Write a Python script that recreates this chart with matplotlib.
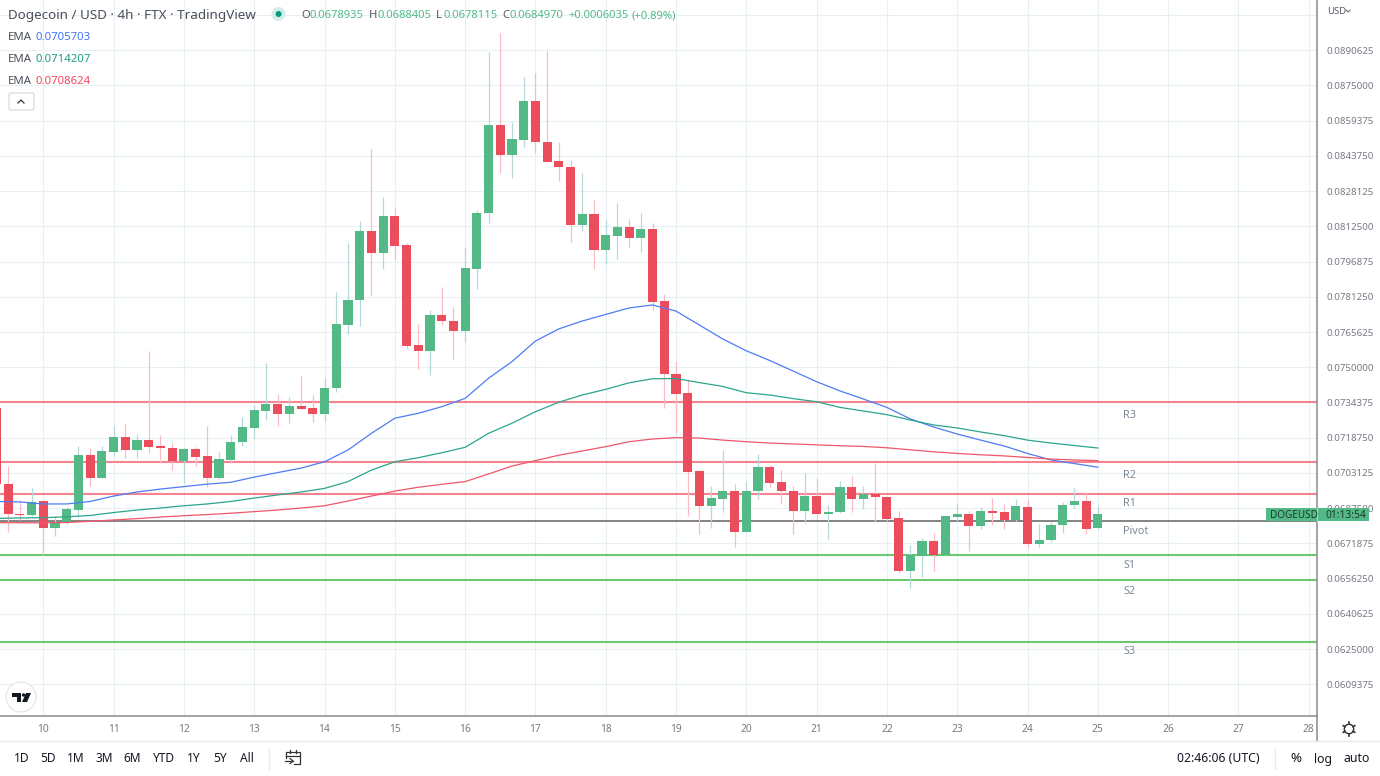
import numpy as np
import matplotlib
matplotlib.use("Agg")
import matplotlib.pyplot as plt
from matplotlib.patches import Circle, FancyBboxPatch, Polygon, Rectangle

# =============================================
# DATA (prices in units of 0.00001 USD, one candle every 4h)
# =============================================
PRICE_UNIT = 1e-5
FIRST_DAY = 10
FIRST_OFFSET = -4  # the first candle opens 4 bars before day 10

opens = [7319, 6982, 6849, 6845, 6907, 6789, 6815, 6867, 7111, 7010, 7126, 7191, 7132, 7177, 7151, 7142,
         7083, 7138, 7107, 7008, 7089, 7167, 7231, 7307, 7337, 7291, 7328, 7319, 7291, 7408, 7689, 7798,
         8103, 8005, 8169, 8042, 7599, 7572, 7732, 7706, 7661, 7937, 8182, 8574, 8441, 8507, 8680, 8500,
         8414, 8389, 8132, 8179, 8020, 8083, 8122, 8073, 8111, 7794, 7471, 7385, 7039, 6885, 6917, 6951,
         6771, 6950, 7058, 6991, 6951, 6861, 6929, 6848, 6858, 6969, 6917, 6938, 6926, 6832, 6597, 6665,
         6730, 6668, 6838, 6849, 6798, 6863, 6858, 6823, 6882, 6718, 6733, 6801, 6891, 6907, 6789]
highs = [7333, 7062, 6912, 6965, 6912, 6841, 6880, 7151, 7142, 7151, 7244, 7248, 7204, 7572, 7200, 7164,
         7142, 7146, 7240, 7124, 7200, 7279, 7333, 7519, 7381, 7368, 7461, 7377, 7452, 7834, 8051, 8148,
         8467, 8255, 8206, 8051, 7692, 7754, 7856, 7767, 8033, 8197, 8897, 8982, 8587, 8787, 8804, 8902,
         8499, 8419, 8361, 8241, 8153, 8228, 8157, 8184, 8139, 7825, 7528, 7448, 7044, 6974, 7133, 6982,
         6996, 7115, 7067, 7044, 6974, 7031, 7009, 6889, 6996, 7018, 6974, 7076, 6930, 6863, 6712, 6743,
         6765, 6845, 6898, 6863, 6880, 6920, 6894, 6916, 6916, 6805, 6814, 6903, 6965, 6943, 6884]
lows = [6956, 6770, 6823, 6841, 6668, 6752, 6805, 6836, 6974, 7008, 7107, 7098, 7098, 7120, 7076, 7044,
        6987, 7062, 6969, 7006, 7076, 7151, 7182, 7266, 7240, 7253, 7313, 7257, 7262, 7390, 7647, 7683,
        7820, 7936, 7975, 7585, 7492, 7466, 7687, 7537, 7612, 7847, 8139, 8361, 8339, 8476, 8450, 8409,
        8326, 8055, 8104, 7936, 7958, 7980, 8033, 8011, 7754, 7319, 7209, 6841, 6761, 6787, 6858, 6703,
        6769, 6916, 6969, 6894, 6761, 6810, 6827, 6739, 6856, 6858, 6872, 6814, 6818, 6588, 6521, 6570,
        6597, 6666, 6818, 6685, 6783, 6801, 6783, 6818, 6699, 6703, 6725, 6765, 6876, 6761, 6781]
closes = [6982, 6849, 6845, 6903, 6787, 6814, 6872, 7111, 7010, 7129, 7191, 7132, 7177, 7148, 7142, 7083,
          7138, 7102, 7008, 7093, 7169, 7234, 7310, 7337, 7291, 7328, 7315, 7291, 7408, 7692, 7799, 8103,
          8005, 8169, 8039, 7595, 7572, 7732, 7706, 7661, 7940, 8184, 8574, 8441, 8510, 8680, 8499, 8411,
          8386, 8132, 8179, 8020, 8086, 8122, 8073, 8111, 7791, 7469, 7383, 7037, 6885, 6920, 6951, 6771,
          6951, 7058, 6988, 6950, 6861, 6929, 6848, 6860, 6969, 6917, 6938, 6925, 6827, 6597, 6668, 6730,
          6668, 6841, 6849, 6798, 6863, 6855, 6823, 6884, 6718, 6736, 6802, 6891, 6907, 6784, 6850]

# EMAs read every 2 candles, starting on the first candle
ema_blue = [6905, 6903, 6894, 6894, 6905, 6929, 6947, 6960, 6971, 6982, 6990, 7013, 7033, 7053, 7081, 7133,
            7207, 7274, 7296, 7325, 7362, 7451, 7525, 7616, 7670, 7705, 7734, 7763, 7776, 7749, 7687, 7625,
            7573, 7530, 7483, 7436, 7395, 7359, 7322, 7271, 7235, 7204, 7177, 7151, 7118, 7089, 7073, 7057]
ema_green = [6830, 6832, 6833, 6837, 6843, 6856, 6867, 6876, 6886, 6894, 6905, 6920, 6934, 6947, 6963, 6993,
             7044, 7081, 7099, 7121, 7145, 7207, 7252, 7303, 7345, 7377, 7402, 7431, 7449, 7450, 7432, 7415,
             7387, 7377, 7361, 7347, 7322, 7306, 7290, 7266, 7244, 7231, 7213, 7197, 7177, 7164, 7153, 7142]
ema_red = [6811, 6811, 6810, 6812, 6817, 6823, 6829, 6836, 6842, 6847, 6853, 6860, 6867, 6876, 6886, 6907,
           6929, 6951, 6968, 6981, 6993, 7027, 7062, 7086, 7110, 7129, 7148, 7170, 7182, 7188, 7186, 7177,
           7170, 7164, 7160, 7156, 7152, 7149, 7143, 7134, 7125, 7118, 7112, 7107, 7100, 7093, 7089, 7086]

res_levels = [7346, 7078, 6938]
pivot_level = 6818
sup_levels = [6668, 6557, 6284]

day_ticks = list(range(10, 29))
bold_days = [15, 22]
price_ticks = [0.0609375 + 0.0015625 * k for k in range(20)]

# =============================================
# STYLE
# =============================================
plt.rcParams['font.family'] = ['Noto Sans', 'DejaVu Sans']
W, H = 1380, 776
AXIS_X, AXIS_Y = 1317, 716
GREEN = '#53b987'
RED = '#eb4d5c'
GREY = '#787b86'
GRID = '#e8f0f4'

fig = plt.figure(figsize=(W / 100, H / 100), dpi=100, facecolor='white')
ax = fig.add_axes([0, 1 - AXIS_Y / H, AXIS_X / W, AXIS_Y / H])

# =============================================
# CHART
# =============================================
o = np.array(opens) * PRICE_UNIT
h = np.array(highs) * PRICE_UNIT
l = np.array(lows) * PRICE_UNIT
c = np.array(closes) * PRICE_UNIT
x = FIRST_DAY + (np.arange(len(o)) + FIRST_OFFSET) / 6
up = c >= o

for level in res_levels:
    ax.axhline(level * PRICE_UNIT, color='#f58490', lw=1.5, zorder=2)
for level in sup_levels:
    ax.axhline(level * PRICE_UNIT, color='#6cc86f', lw=1.5, zorder=2)
ax.axhline(pivot_level * PRICE_UNIT, color='#6e6e6e', lw=1.2, zorder=2)

ax.vlines(x[up], l[up], h[up], color='#b5d8d8', lw=0.9, zorder=3)
ax.vlines(x[~up], l[~up], h[~up], color='#f9bcc3', lw=0.9, zorder=3)
ax.bar(x, np.abs(c - o), bottom=np.minimum(o, c), width=0.13,
       color=np.where(up, GREEN, RED), linewidth=0, zorder=4)

x_ema = x[::2]
ax.plot(x_ema, np.array(ema_blue) * PRICE_UNIT, color='#4d7cf5', lw=0.9, zorder=5)
ax.plot(x_ema, np.array(ema_green) * PRICE_UNIT, color='#2ba58c', lw=0.9, zorder=5)
ax.plot(x_ema, np.array(ema_red) * PRICE_UNIT, color='#f0566a', lw=0.9, zorder=5)

ax.set_xlim(9.384, 28.118)
ax.set_ylim(0.05954, 0.09128)
ax.yaxis.tick_right()
ax.set_yticks(price_ticks)
ax.set_yticklabels([f"{p:.7f}" for p in price_ticks[:-1]] + [""])
ax.set_xticks(day_ticks)
ax.set_xticklabels([str(d) for d in day_ticks])
ax.tick_params(axis='y', length=0, pad=6.5, labelsize=7.0, labelcolor=GREY)
ax.tick_params(axis='x', length=0, pad=6, labelsize=7.4, labelcolor=GREY)
for tick_label, d in zip(ax.get_xticklabels(), day_ticks):
    if d in bold_days:
        tick_label.set_fontweight('bold')
ax.grid(True, color=GRID, lw=0.8)
ax.set_axisbelow(True)
ax.spines['left'].set_visible(False)
ax.spines['top'].set_visible(False)
for side in ['right', 'bottom']:
    ax.spines[side].set_color('#8a8a8a')
    ax.spines[side].set_linewidth(1.1)

# =============================================
# OVERLAY IN PIXELS: legend, labels, toolbar
# =============================================
ov = fig.add_axes([0, 0, 1, 1], facecolor='none')
ov.set_xlim(0, W)
ov.set_ylim(H, 0)
ov.axis('off')


def label(px, py, text, color='#131722', size=8.6, ha='left', **kw):
    # va center sits about 1px high on this font
    ov.text(px, py + 1, text, color=color, fontsize=size, ha=ha, va='center', **kw)


label(8, 15, "Dogecoin / USD · 4h · FTX · TradingView", color='#4a4e58', size=9.7)
ov.add_patch(Circle((278.6, 14), 7, color='#d5ece8', lw=0))
ov.add_patch(Circle((278.6, 14), 3, color='#089981', lw=0))

ohlc_keys = [(301, "O", 310, "0.0678935"), (369, "H", 378, "0.0688405"),
             (436, "L", 443, "0.0678115"), (502, "C", 510, "0.0684970")]
for kx, key, vx, val in ohlc_keys:
    label(kx, 15, key, color='#555962', size=8.1)
    label(vx, 15, val, color=GREEN, size=8.1)
label(568, 15, "+0.0006035", color=GREEN, size=8.1)
label(632, 15, "(+0.89%)", color=GREEN, size=8.1)

ema_legend = [(36, "0.0705703", '#3f73f5'), (58, "0.0714207", '#1a9e85'), (80, "0.0708624", '#f5475b')]
for ey, val, col in ema_legend:
    label(8, ey, "EMA", color='#4a4e58', size=8.2)
    label(36, ey, val, color=col, size=8.2)

ov.add_patch(FancyBboxPatch((9, 93), 25, 17, boxstyle="round,pad=0,rounding_size=2",
                            fc='white', ec='#d6d9de', lw=0.9))
ov.plot([18, 21, 24], [103, 100, 103], color='#333333', lw=0.9)

# pivot names
pivot_names = [("R3", 414), ("R2", 475), ("R1", 503), ("Pivot", 531), ("S1", 564), ("S2", 591), ("S3", 651)]
for name, py in pivot_names:
    label(1123, py, name, color='#7c8a99', size=7.8)

# last price tag
ov.add_patch(Rectangle((1266, 508), 103, 13, fc=GREEN, lw=0, zorder=3))
ov.plot([1317, 1317], [508, 521], color='#a8dcc2', lw=0.8, zorder=4)
label(1270, 514, "DOGEUSD", color='#1c3b2c', size=7.2, zorder=5)
label(1326, 514, "01:13:54", color='#1c3b2c', size=7.4, zorder=5)

# USD selector
label(1327, 11, "USD", color='#555962', size=6.8)
ov.plot([1346, 1348, 1350], [10, 12, 10], color='#555962', lw=0.7)

# TradingView badge
ov.add_patch(Circle((21, 697), 15, fc='white', ec='#e4e6ea', lw=0.9))
ov.add_patch(Polygon([(12, 693), (21, 693), (21, 702), (17, 702), (17, 697), (12, 697)], fc='#131722', lw=0))
ov.add_patch(Circle((23.5, 695), 1.7, fc='#131722', lw=0))
ov.add_patch(Polygon([(26, 693), (31, 693), (27, 702), (22, 702)], fc='#131722', lw=0))

# axis corner, separators
ov.plot([AXIS_X, AXIS_X], [AXIS_Y, 741], color='#8a8a8a', lw=1.1)
ov.plot([0, W], [741, 741], color='#e6e8eb', lw=1)
ov.plot([269, 269], [749, 769], color='#e6e8eb', lw=1)
ov.plot([1275, 1275], [749, 769], color='#e6e8eb', lw=1)

# gear
ov.add_patch(Circle((1349, 729), 4.7, fc='white', ec='#333333', lw=1))
for a in np.deg2rad(np.arange(0, 360, 60) + 30):
    ov.plot([1349 + 4.7 * np.cos(a), 1349 + 6.6 * np.cos(a)],
            [729 + 4.7 * np.sin(a), 729 + 6.6 * np.sin(a)], color='#333333', lw=1.2)

# range buttons
range_labels = ["1D", "5D", "1M", "3M", "6M", "YTD", "1Y", "5Y", "All"]
range_x = [22, 48, 76, 104, 132, 164, 194, 220, 247]
for rx, txt in zip(range_x, range_labels):
    label(rx, 758, txt, size=8.6, ha='center')

# calendar icon
ov.plot([286, 286, 300, 300, 294], [758, 752, 752, 764, 764], color='#333333', lw=0.9)
ov.plot([286, 300], [756, 756], color='#333333', lw=0.9)
ov.plot([290, 290], [750, 753], color='#333333', lw=0.9)
ov.plot([296, 296], [750, 753], color='#333333', lw=0.9)
ov.plot([285, 293], [761, 761], color='#333333', lw=0.9)
ov.plot([290, 293, 290], [758.5, 761, 763.5], color='#333333', lw=0.9)

label(1218, 758, "02:46:06 (UTC)", size=8.8, ha='center')
label(1296, 758, "%", size=9.6, ha='center')
label(1323, 758, "log", size=8.8, ha='center')
label(1357, 758, "auto", size=8.8, ha='center')

fig.savefig("out.png", dpi=100)
